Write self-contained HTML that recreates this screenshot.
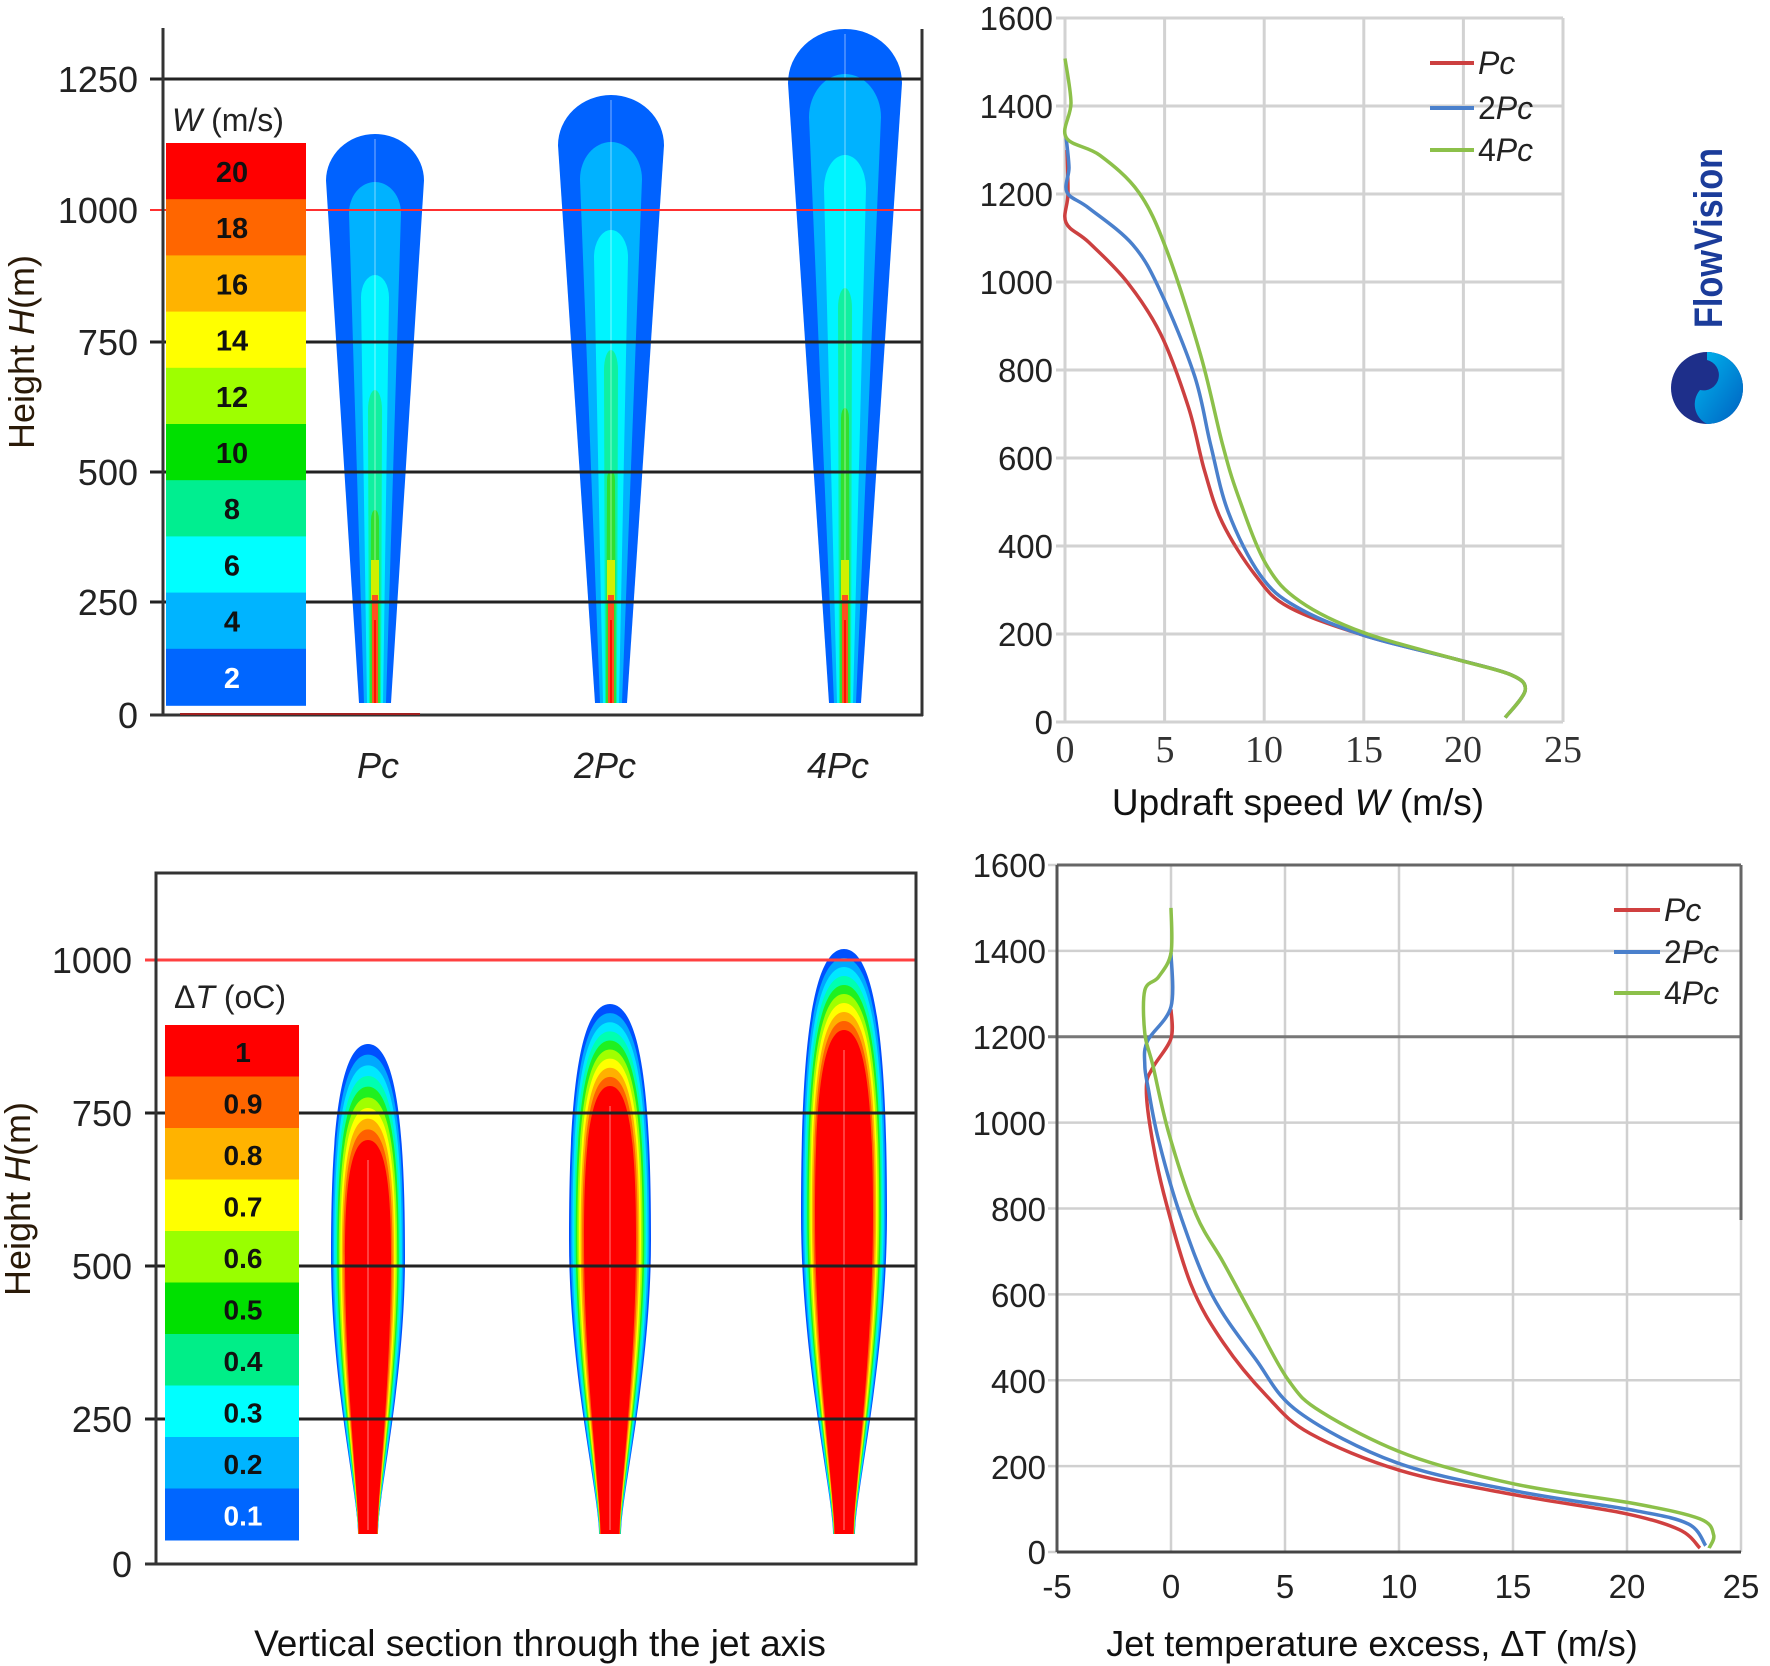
<!DOCTYPE html>
<html><head><meta charset="utf-8"><style>
html,body{margin:0;padding:0;background:#fff}
svg{display:block;font-family:"Liberation Sans",sans-serif}
</style></head><body>
<svg id="s" width="1770" height="1666" viewBox="0 0 1770 1666" xmlns="http://www.w3.org/2000/svg">
<rect width="1770" height="1666" fill="#fff"/>
<g id="tl"></g><g id="tr"></g><g id="bl"></g><g id="br"></g>
<g font-size="36" fill="#222" text-anchor="end">
<text x="138" y="92">1250</text><text x="138" y="223">1000</text><text x="138" y="355">750</text>
<text x="138" y="485">500</text><text x="138" y="615">250</text><text x="138" y="728">0</text>
</g>
<text transform="translate(34,352) rotate(-90)" font-size="36" text-anchor="middle" fill="#2a1a08">Height <tspan font-style="italic">H</tspan>(m)</text>
<text x="172" y="131" font-size="32" fill="#222"><tspan font-style="italic">W</tspan> (m/s)</text>
<g font-size="36" font-style="italic" fill="#222" text-anchor="middle">
<text x="378" y="778">Pc</text><text x="605" y="778">2Pc</text><text x="838" y="778">4Pc</text>
</g>
<g font-size="33" fill="#222" text-anchor="end">
<text x="1053" y="30">1600</text><text x="1053" y="118">1400</text><text x="1053" y="206">1200</text>
<text x="1053" y="294">1000</text><text x="1053" y="382">800</text><text x="1053" y="470">600</text>
<text x="1053" y="558">400</text><text x="1053" y="646">200</text><text x="1053" y="734">0</text>
</g>
<g font-size="38" font-family="Liberation Serif,serif" fill="#333" text-anchor="middle">
<text x="1065" y="762">0</text><text x="1165" y="762">5</text><text x="1264" y="762">10</text>
<text x="1364" y="762">15</text><text x="1463" y="762">20</text><text x="1563" y="762">25</text>
</g>
<text x="1298" y="815" font-size="37" text-anchor="middle" fill="#111">Updraft speed <tspan font-style="italic">W</tspan> (m/s)</text>
<text transform="translate(1722,238) rotate(-90)" font-size="40" font-weight="bold" text-anchor="middle" fill="#1b3c9a" textLength="180" lengthAdjust="spacingAndGlyphs">FlowVision</text>
<defs><linearGradient id="lg" x1="0" y1="0" x2="1" y2="1"><stop offset="0" stop-color="#00b8f0"/><stop offset="1" stop-color="#0060c0"/></linearGradient></defs>
<circle cx="1707" cy="388" r="36" fill="#1e2f8a"/>
<path d="M1707 352 A36 36 0 0 1 1707 424 A22 22 0 0 1 1700 390 A14 14 0 0 0 1707 360 Z" fill="url(#lg)"/>
<g font-size="36" fill="#222" text-anchor="end">
<text x="132" y="973">1000</text><text x="132" y="1126">750</text><text x="132" y="1279">500</text>
<text x="132" y="1432">250</text><text x="132" y="1577">0</text>
</g>
<text transform="translate(30,1199) rotate(-90)" font-size="36" text-anchor="middle" fill="#2a1a08">Height <tspan font-style="italic">H</tspan>(m)</text>
<text x="174" y="1008" font-size="32" fill="#222">Δ<tspan font-style="italic">T</tspan> (oC)</text>
<text x="540" y="1656" font-size="37" text-anchor="middle" fill="#111">Vertical section through the jet axis</text>
<g font-size="33" fill="#222" text-anchor="end">
<text x="1046" y="877">1600</text><text x="1046" y="963">1400</text><text x="1046" y="1049">1200</text>
<text x="1046" y="1135">1000</text><text x="1046" y="1221">800</text><text x="1046" y="1307">600</text>
<text x="1046" y="1393">400</text><text x="1046" y="1479">200</text><text x="1046" y="1564">0</text>
</g>
<g font-size="33" fill="#222" text-anchor="middle">
<text x="1057" y="1598">-5</text><text x="1171" y="1598">0</text><text x="1285" y="1598">5</text>
<text x="1399" y="1598">10</text><text x="1513" y="1598">15</text><text x="1627" y="1598">20</text><text x="1741" y="1598">25</text>
</g>
<text x="1372" y="1656" font-size="36" text-anchor="middle" fill="#111">Jet temperature excess, ΔT (m/s)</text>
</svg>
<script>
var NS="http://www.w3.org/2000/svg";
function add(g,tag,at,txt){var e=document.createElementNS(NS,tag);for(var k in at)e.setAttribute(k,at[k]);if(txt!=null)e.textContent=txt;document.getElementById(g).appendChild(e);return e;}
function cr(pts){var d="M"+pts[0][0].toFixed(1)+" "+pts[0][1].toFixed(1);for(var i=0;i<pts.length-1;i++){var p0=pts[i-1]||pts[i],p1=pts[i],p2=pts[i+1],p3=pts[i+2]||p2;
d+=" C"+(p1[0]+(p2[0]-p0[0])/6).toFixed(1)+" "+(p1[1]+(p2[1]-p0[1])/6).toFixed(1)+" "+(p2[0]-(p3[0]-p1[0])/6).toFixed(1)+" "+(p2[1]-(p3[1]-p1[1])/6).toFixed(1)+" "+p2[0].toFixed(1)+" "+p2[1].toFixed(1);}return d;}
(function(){
 function jet(cx,top,bot,hw,bw,cap,col){add("tl","path",{d:"M"+(cx-bw)+" "+bot+" L"+(cx-hw)+" "+(top+cap)+" A"+hw+" "+cap+" 0 0 1 "+(cx+hw)+" "+(top+cap)+" L"+(cx+bw)+" "+bot+" Z",fill:col});}
 var J=[[375,134,49,182,26,275,14,390],[611,95,53,142,31,230,17,350],[845,29,57,74,36,155,21,288]];
 J.forEach(function(j){var cx=j[0];
  jet(cx,j[1],703,j[2],16,j[2]*0.95,"#0062ff");
  jet(cx,j[3],703,j[4],11,j[4]*1.2,"#00b2ff");
  jet(cx,j[5],703,j[6],8,j[6]*1.6,"#00f4ff");
  jet(cx,j[7],703,7,6,20,"#10f0a0");
  jet(cx,j[7]+120,703,4,5,10,"#30e030");
  add("tl","rect",{x:cx-4,y:560,width:8,height:40,fill:"#d0f000"});
  add("tl","rect",{x:cx-3,y:595,width:6,height:108,fill:"#ff5020"});
  add("tl","rect",{x:cx-1,y:620,width:2,height:83,fill:"#ff1000"});
  add("tl","line",{x1:cx,y1:j[1]+5,x2:cx,y2:560,stroke:"#ffffff","stroke-opacity":0.25,"stroke-width":2});
 });
 [79,342,472,602].forEach(function(y){add("tl","line",{x1:150,y1:y,x2:922,y2:y,stroke:"#222","stroke-width":3});});
 add("tl","line",{x1:150,y1:210,x2:922,y2:210,stroke:"#ff3030","stroke-width":2});
 add("tl","line",{x1:163,y1:28,x2:163,y2:716,stroke:"#333","stroke-width":3});
 add("tl","line",{x1:922,y1:29,x2:922,y2:716,stroke:"#333","stroke-width":3});
 add("tl","line",{x1:150,y1:715,x2:923,y2:715,stroke:"#333","stroke-width":3});
 add("tl","line",{x1:180,y1:714,x2:420,y2:714,stroke:"#a02020","stroke-width":2});
 var cols=["#ff0000","#ff6600","#ffb300","#ffff00","#9eff00","#00e000","#00ee90","#00ffff","#00b4ff","#0066ff"],labs=["20","18","16","14","12","10","8","6","4","2"];
 for(var i=0;i<10;i++){var y=143+i*56.2;add("tl","rect",{x:166,y:y,width:140,height:57,fill:cols[i]});
  add("tl","text",{x:232,y:y+39,"font-size":29,"font-weight":"bold","text-anchor":"middle",fill:i==9?"#fff":"#111"},labs[i]);}
})();
(function(){
 function X(w){return 1065+w*19.92;} function Y(h){return 722-h*0.44;}
 for(var w=0;w<=25;w+=5)add("tr","line",{x1:X(w),y1:Y(1600),x2:X(w),y2:Y(0),stroke:"#d2d2d2","stroke-width":3});
 for(var h=0;h<=1600;h+=200)add("tr","line",{x1:1056,y1:Y(h),x2:X(25),y2:Y(h),stroke:"#d2d2d2","stroke-width":3});
 function cur(pts,c){var p=pts.map(function(a){return[X(a[0]),Y(a[1])];});add("tr","path",{d:cr(p),fill:"none",stroke:c,"stroke-width":3.5,"stroke-linejoin":"round"});}
 var tail=[[12,250],[15,197],[19.6,143],[22.4,107],[23.1,72],[22.1,10]];
 cur([[0.1,1300],[0.15,1200],[0.05,1135],[1.2,1090],[3.1,1001],[4.8,882],[6.2,715],[7.0,572],[7.9,453],[9.55,334],[11.2,262]].concat(tail.slice(1)),"#cc4040");
 cur([[0.05,1330],[0.2,1260],[0.1,1204],[1.2,1168],[3.4,1085],[4.8,978],[6.5,787],[7.3,632],[8.2,477],[9.8,334],[11.6,262]].concat(tail.slice(1)),"#4a80cc");
 cur([[0,1508],[0.3,1407],[0.05,1329],[1.75,1288],[3.7,1204],[5.1,1073],[6.8,835],[7.9,632],[8.7,513],[10.1,358],[11.8,274],[15,203],[19.6,143],[22.4,107],[23.1,72],[22.1,10]],"#8cc04a");
 var L=[["#cc4040","Pc",63],["#4a80cc","2Pc",108],["#8cc04a","4Pc",150]];
 L.forEach(function(l){add("tr","line",{x1:1430,y1:l[2],x2:1474,y2:l[2],stroke:l[0],"stroke-width":4});
  var t=add("tr","text",{x:1478,y:l[2]+11,"font-size":32,fill:"#222"});
  if(l[1]=="Pc")t.innerHTML='<tspan font-style="italic">Pc</tspan>';else t.innerHTML=l[1][0]+'<tspan font-style="italic">Pc</tspan>';});
})();
(function(){
 var cols=["#0050ff","#00a8ff","#00e8ff","#00ffb0","#20f020","#a0ff00","#ffff00","#ffb000","#ff6000","#ff0000"];
 function sp(cx,top,ym,bot,hw,bw){return "M"+cx+" "+top+" C"+(cx+hw*0.85)+" "+top+" "+(cx+hw)+" "+(ym-(ym-top)*0.5)+" "+(cx+hw)+" "+ym+
  " C"+(cx+hw)+" "+(ym+(bot-ym)*0.45)+" "+(cx+bw)+" "+(bot-40)+" "+(cx+bw)+" "+bot+" L"+(cx-bw)+" "+bot+
  " C"+(cx-bw)+" "+(bot-40)+" "+(cx-hw)+" "+(ym+(bot-ym)*0.45)+" "+(cx-hw)+" "+ym+" C"+(cx-hw)+" "+(ym-(ym-top)*0.5)+" "+(cx-hw*0.85)+" "+top+" "+cx+" "+top+" Z";}
 var J=[[368,1044,1140,37,23,1257,10],[610,1004,1086,41,26,1240,11],[844,949,1030,43,29,1215,11]];
 J.forEach(function(j){for(var i=0;i<10;i++){var f=i/9;var top=j[1]+(j[2]-j[1])*f,hw=j[3]+(j[4]-j[3])*f,bw=j[6]+(9.5-j[6])*f;
   add("bl","path",{d:sp(j[0],top,j[5],1534,hw,bw),fill:cols[i]});}
  add("bl","line",{x1:j[0],y1:j[2]+20,x2:j[0],y2:1530,stroke:"#ff8080","stroke-width":2,"stroke-opacity":0.5});});
 [1113,1266,1419].forEach(function(y){add("bl","line",{x1:145,y1:y,x2:916,y2:y,stroke:"#222","stroke-width":3});});
 add("bl","line",{x1:145,y1:960,x2:916,y2:960,stroke:"#ff4040","stroke-width":3});
 add("bl","rect",{x:156,y:873,width:760,height:691,fill:"none",stroke:"#333","stroke-width":3});
 add("bl","line",{x1:145,y1:1564,x2:156,y2:1564,stroke:"#333","stroke-width":3});
 var bc=["#ff0000","#ff6600","#ffb300","#ffff00","#99ff00","#00e000","#00ee88","#00ffff","#00b4ff","#0066ff"],labs=["1","0.9","0.8","0.7","0.6","0.5","0.4","0.3","0.2","0.1"];
 for(var i=0;i<10;i++){var y=1025+i*51.5;add("bl","rect",{x:165,y:y,width:134,height:52,fill:bc[i]});
  add("bl","text",{x:243,y:y+37,"font-size":28,"font-weight":"bold","text-anchor":"middle",fill:i==9?"#fff":"#111"},labs[i]);}
})();
(function(){
 function X(t){return 1057+(t+5)*22.8;} function Y(h){return 1552-h*0.4294;}
 for(var t=-5;t<=25;t+=5)add("br","line",{x1:X(t),y1:Y(1600),x2:X(t),y2:Y(0),stroke:"#d0d0d0","stroke-width":2.5});
 for(var h=0;h<=1600;h+=200)add("br","line",{x1:1048,y1:Y(h),x2:X(25),y2:Y(h),stroke:"#d0d0d0","stroke-width":2.5});
 add("br","line",{x1:1048,y1:Y(1200),x2:X(25),y2:Y(1200),stroke:"#777","stroke-width":3});
 add("br","line",{x1:X(-5),y1:Y(1600),x2:X(25),y2:Y(1600),stroke:"#666","stroke-width":3});
 add("br","line",{x1:X(-5),y1:Y(1600),x2:X(-5),y2:Y(0),stroke:"#555","stroke-width":3});
 add("br","line",{x1:X(-5),y1:Y(0),x2:X(25),y2:Y(0),stroke:"#444","stroke-width":3});
 add("br","line",{x1:X(25),y1:Y(1600),x2:X(25),y2:1220,stroke:"#666","stroke-width":3});
 function cur(pts,c){var p=pts.map(function(a){return[X(a[0]),Y(a[1])];});add("br","path",{d:cr(p),fill:"none",stroke:c,"stroke-width":3.5,"stroke-linejoin":"round"});}
 cur([[0,1264],[0,1196],[-0.8,1128],[-1.08,1084],[-0.9,985],[-0.32,835],[0.87,624],[2.3,487],[4.2,363],[6.1,276],[10.1,189],[15.1,133],[19.9,90],[22.3,52],[23.2,9]],"#d04040");
 cur([[0,1395],[0,1270],[-1.03,1190],[-1.15,1134],[-1.0,1080],[-0.55,960],[0.4,786],[1.8,599],[3.7,450],[5.6,326],[9.9,208],[15.1,142],[20.4,96],[22.7,65],[23.45,15]],"#4a80cc");
 cur([[0,1500],[0,1395],[-0.55,1339],[-1.15,1308],[-1.15,1208],[-0.8,1134],[-0.08,972],[1.1,786],[2.3,674],[3.7,537],[5.15,400],[6.6,326],[10.4,226],[15.1,158],[20.4,112],[23.2,77],[23.8,40],[23.6,9]],"#8cc04a");
 var L=[["#d04040","Pc",910],["#4a80cc","2Pc",952],["#8cc04a","4Pc",993]];
 L.forEach(function(l){add("br","line",{x1:1614,y1:l[2],x2:1660,y2:l[2],stroke:l[0],"stroke-width":4});
  var t=add("br","text",{x:1664,y:l[2]+11,"font-size":32,fill:"#222"});
  if(l[1]=="Pc")t.innerHTML='<tspan font-style="italic">Pc</tspan>';else t.innerHTML=l[1][0]+'<tspan font-style="italic">Pc</tspan>';});
})();
</script>
</body></html>
